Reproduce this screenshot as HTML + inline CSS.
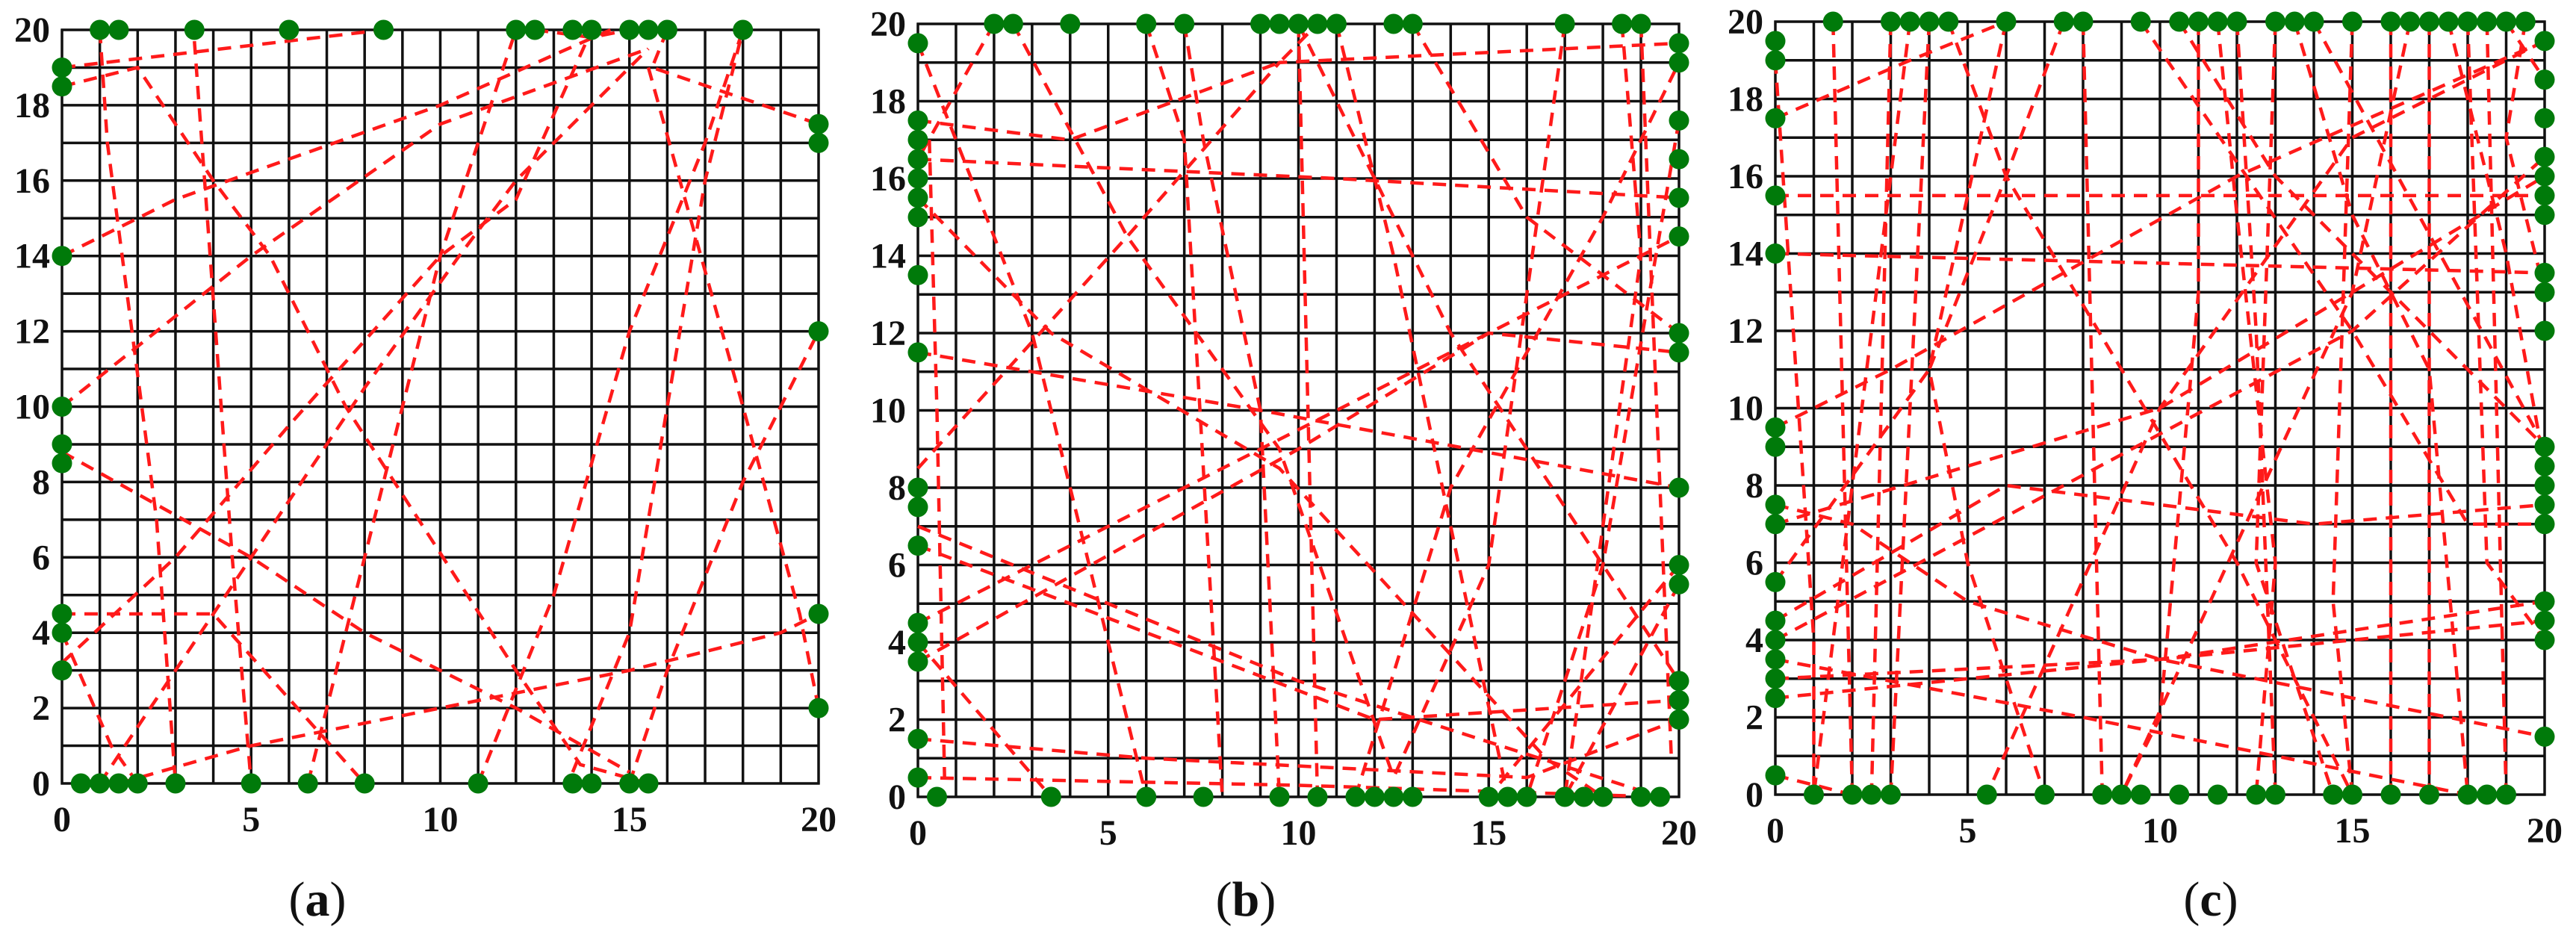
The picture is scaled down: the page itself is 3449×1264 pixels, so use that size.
<!DOCTYPE html>
<html><head><meta charset="utf-8"><style>
html,body{margin:0;padding:0;background:#fff;}
svg{display:block;}
text{font-family:"Liberation Serif",serif;fill:#111;}
</style></head><body>
<svg id="fig" width="3449" height="1264" viewBox="0 0 3449 1264" xmlns="http://www.w3.org/2000/svg"></svg>
<script>
// ---------- data ----------
const ticks = [0,5,10,15,20];
const yTicks = [0,2,4,6,8,10,12,14,16,18,20];
const panelLabels = ["(a)","(b)","(c)"];

// panel a nodes
const aLeft = [19,18.5,14,10,9,8.5,4.5,4,3];
const aTop = [1,1.5,3.5,6,8.5,12,12.5,13.5,14,15,15.5,16,18];
const aRight = [17.5,17,12,4.5,2];
const aBottom = [0.5,1,1.5,2,3,5,6.5,8,11,13.5,14,15,15.5];
// panel a routes (x,y pairs)
const aRoutes = [
 [0,19, 8.5,20],
 [0,18.5, 2,19, 4,16, 5.5,14, 7.5,10, 12,3, 13.7,0.5, 15.5,0],
 [1,20, 1.2,17, 2.5,7, 3,0],
 [3.5,19.7, 4.5,6, 5,0],
 [0,14, 3,15.5, 10,18, 14.5,20],
 [0,10, 5,14, 10,17.5, 15.5,19.5],
 [0,8.8, 5,6, 8,4, 10,3, 12,2, 15,0.3],
 [0,4, 1.3,1, 2,0],
 [0,3.2, 3,6, 6,9.5, 10,14, 12,15.5, 14,20],
 [1,0, 3,3, 5,6, 8,10.5, 10.5,14, 12,16, 15.5,19.5],
 [6.5,0, 8,6, 10,14, 11,17, 12,20],
 [1.5,0, 5,1, 10,2, 15,3, 19,4, 20,4.5],
 [11,0, 13,5, 15,12, 17,17, 18,20],
 [15,0, 16,3, 18,8, 20,12],
 [13.5,0.3, 15,4, 17,16, 18,20],
 [16,20, 15.6,19, 20,17.5],
 [15.5,19, 18,10, 19.5,4.5, 20,2],
 [0,4.5, 4,4.5, 8,0],
 [12.5,20, 14,19.8, 15,20]
];

// panel b nodes
const bLeft = [19.5,17.5,17,16.5,16,15.5,15,13.5,11.5,8,7.5,6.5,4.5,4,3.5,1.5,0.5];
const bTop = [2,2.5,4,6,7,9,9.5,10,10.5,11,12.5,13,17,18.5,19];
const bRight = [19.5,19,17.5,16.5,15.5,14.5,12,11.5,8,6,5.5,3,2.5,2];
const bBottom = [0.5,3.5,6,7.5,9.5,10.5,11.5,12,12.5,13,15,15.5,16,17,17.5,18,19,19.5];
const bRoutes = [
 [0,19.5, 3,12, 4.5,6, 6,0],
 [2,20, 0,16.5],
 [2.5,20, 5.5,14.5, 9.5,9, 12.5,0.5],
 [0,15.5, 3.5,12, 9.5,8.5, 16.5,1, 18,0],
 [0,11.5, 9,10, 20,8],
 [0,16.5, 11,16, 20,15.5],
 [0,4.5, 7,8, 13,11, 20,14.5],
 [0,8.5, 5.5,14.5, 9.5,19, 20,19.5],
 [0,17.5, 4,17, 9.5,19, 10.5,20],
 [0,3.5, 10,9, 15,12, 20,11.5],
 [0,7, 10,3, 19.5,0],
 [0,6.5, 12,2, 20,2.5],
 [0,1.5, 6,1, 16,0.5, 20,2],
 [0,0.5, 10,0.3, 19.5,0],
 [6,20, 7,17, 8,0],
 [7,20, 7.5,17, 9,10, 9.5,0],
 [10,20, 10.5,0],
 [10,20, 14,12, 20,3],
 [11,20, 12.5,14, 15.5,0],
 [13,20, 16,15, 20,12],
 [17,20, 15,6, 12.5,0.5],
 [18.5,20, 19,14, 17,0],
 [19,20, 19.5,8, 19.8,1],
 [20,17.5, 18,6, 16,0],
 [20,5.5, 17,0],
 [0,4, 3.5,0],
 [20,6, 15,0],
 [11.5,0, 14,8, 18,15, 20,19],
 [0.3,17, 0.5,10, 0.7,0.5]
];

// panel c nodes
const cLeft = [19.5,19,17.5,15.5,14,9.5,9,7.5,7,5.5,4.5,4,3.5,3,2.5,0.5];
const cTop = [1.5,3,3.5,4,4.5,6,7.5,8,9.5,10.5,11,11.5,12,13,13.5,14,15,16,16.5,17,17.5,18,18.5,19,19.5];
const cRight = [19.5,18.5,17.5,16.5,16,15.5,15,13.5,13,12,9,8.5,8,7.5,7,5,4.5,4,1.5];
const cBottom = [1,2,2.5,3,5.5,7,8.5,9,9.5,10.5,11.5,12.5,13,14.5,15,16,17,18,18.5,19];
const cRoutes = [
 [0,17.5, 3.5,19, 6,20],
 [0,19, 1,4, 1,0],
 [1.5,20, 2,0],
 [3,20, 2.5,0],
 [3.5,20, 2,8, 1,0],
 [4,20, 3,0],
 [4.5,20, 6,16, 12,6, 15,0],
 [0,15.5, 20,15.5],
 [0,14, 20,13.5],
 [0,9.5, 3,11, 12,16, 20,19.5],
 [0,7, 10,10, 20,16],
 [0,4, 15,12, 20,16.5],
 [0,3, 10,3.5, 20,5],
 [0,2.5, 20,4.5],
 [0,0.5, 2,0],
 [0,5.5, 4,11, 6,20],
 [7.5,20, 6,16, 4,11, 5,6, 7,0],
 [8,20, 8.5,0],
 [9.5,20, 15,12, 18,7, 20,7],
 [10.5,20, 13,16, 20,9],
 [11,20, 11,13, 10,2, 9,0],
 [11.5,20, 12,15, 13,6, 12.5,0],
 [12,20, 12.5,12, 13,0],
 [13,20, 12.5,6, 14.5,0],
 [13.5,20, 15,15, 17,11, 18,0],
 [14,20, 20,9],
 [15,20, 14.5,5, 15,0],
 [16,20, 16,0],
 [16.5,20, 15,13, 9,0],
 [17,20, 17,0],
 [17.5,20, 19,14, 20,8.5],
 [18,20, 18.5,6, 20,4],
 [18.5,20, 19,0],
 [19,20, 20,18.5],
 [19.5,20, 19,17, 20,13],
 [0,3.5, 8,2, 18,0],
 [0,7.5, 2,7, 5,5, 10,3.5, 20,1.5],
 [20,19.5, 15,17, 10,10, 5.5,0],
 [0,4.5, 6,8, 14,7, 20,7.5]
];

// ---------- layout ----------
const panels = [
 {x0:83, x1:1096, y0:1049, y1:40, lx:425, left:aLeft, top:aTop, right:aRight, bottom:aBottom, routes:aRoutes},
 {x0:1229, x1:2248, y0:1067, y1:32, lx:1668, left:bLeft, top:bTop, right:bRight, bottom:bBottom, routes:bRoutes},
 {x0:2377, x1:3407, y0:1064, y1:29, lx:2960, left:cLeft, top:cTop, right:cRight, bottom:cBottom, routes:cRoutes}
];

const NS = "http://www.w3.org/2000/svg";
const svg = document.getElementById('fig');
function mk(tag, attrs, parent){
  const e = document.createElementNS(NS, tag);
  for (const k in attrs) e.setAttribute(k, attrs[k]);
  parent.appendChild(e);
  return e;
}

panels.forEach((p, pi) => {
  const sx = v => p.x0 + (p.x1 - p.x0) * v / 20;
  const sy = v => p.y0 + (p.y1 - p.y0) * v / 20;
  const g = mk('g', {}, svg);
  
  

  // grid
  const grid = mk('g', {stroke:'#111', 'stroke-width':3.5, fill:'none'}, g);
  
  
  for (let i = 0; i <= 20; i++) {
    mk('line', {x1:sx(i), x2:sx(i), y1:sy(0)+1.5, y2:sy(20)-1.5}, grid);
    mk('line', {x1:sx(0)-1.5, x2:sx(20)+1.5, y1:sy(i), y2:sy(i)}, grid);
  }

  // routes
  const rg = mk('g', {stroke:'#ff1a1a', 'stroke-width':4.5, fill:'none', 'stroke-dasharray':'18 12'}, g);
  
  
  p.routes.forEach(r => {
    const pts = [];
    for (let k = 0; k < r.length; k += 2) pts.push(sx(r[k]) + ',' + sy(r[k+1]));
    const pl = mk('polyline', {points: pts.join(' ')}, rg);
    
    
  });

  // nodes
  const ng = mk('g', {fill:'#007a0a'}, g);
  
  
  const addNode = (x, y) => {
    const c = mk('circle', {cx:sx(x), cy:sy(y), r:13.5}, ng);
    
    
  };
  p.left.forEach(v => addNode(0, v));
  p.top.forEach(v => addNode(v, 20));
  p.right.forEach(v => addNode(20, v));
  p.bottom.forEach(v => addNode(v, 0));

  // ticks
  ticks.forEach(t => {
    const tx = mk('text', {x:sx(t), y:p.y0 + 64, 'text-anchor':'middle', 'font-size':48, 'font-weight':'bold'}, g);
    tx.textContent = t;
    
    
  });
  yTicks.forEach(t => {
    const ty = mk('text', {x:p.x0 - 16, y:sy(t) + 16, 'text-anchor':'end', 'font-size':48, 'font-weight':'bold'}, g);
    ty.textContent = t;
    
    
  });

  // panel label
  const lb = mk('text', {x:p.lx, y:1226, 'text-anchor':'middle', 'font-size':66}, g);
  
  
  const s1 = mk('tspan', {}, lb); s1.textContent = '(';
  const s2 = mk('tspan', {'font-weight':'bold'}, lb); s2.textContent = 'abc'[pi];
  const s3 = mk('tspan', {}, lb); s3.textContent = ')';
});
</script>
</body></html>
